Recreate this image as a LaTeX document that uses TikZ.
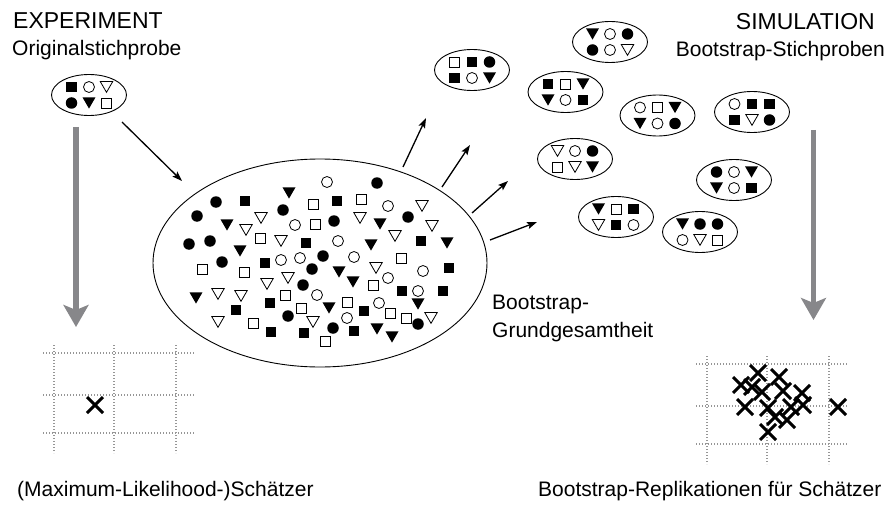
\documentclass[tikz,border=0pt]{standalone}
\usepackage{fontspec}
\setmainfont{Liberation Sans}
\usepackage{tikz}
\usetikzlibrary{calc, shapes.geometric, shapes.misc, arrows.meta}

\definecolor{greyarrow}{RGB}{135,135,138}
\definecolor{gridgrey}{RGB}{150,150,150}

\tikzset{
    smp/.style={ellipse, draw, line width=0.9pt, minimum width=75pt, minimum height=41pt, inner sep=0pt},
    fsq/.style={rectangle, fill=black, minimum size=10.5pt, inner sep=0pt},
    osq/.style={rectangle, draw, line width=0.8pt, minimum size=10pt, inner sep=0pt},
    fci/.style={circle, fill=black, minimum size=11.5pt, inner sep=0pt},
    oci/.style={circle, draw, line width=0.8pt, minimum size=11pt, inner sep=0pt},
    ftr/.style={regular polygon, regular polygon sides=3, shape border rotate=180, fill=black, minimum size=15pt, inner sep=0pt, yshift=1.9pt},
    otr/.style={regular polygon, regular polygon sides=3, shape border rotate=180, draw, line width=0.8pt, minimum size=14.5pt, inner sep=0pt, yshift=1.9pt},
    xmark/.style={cross out, draw, line width=3pt, minimum size=13pt, inner sep=0pt},
    grd/.style={gridgrey, line width=1.3pt, dash pattern=on 1.3pt off 1.7pt},
    bigarrow/.style={greyarrow, line width=5.5pt, -{Stealth[length=22pt, width=25pt, inset=5pt]}},
    arr/.style={line width=1.3pt, -{Stealth[length=10pt, width=7pt, inset=2pt]}},
    hd/.style={font=\fontsize{23}{27}\selectfont, inner sep=0pt},
    lb/.style={font=\fontsize{21}{25}\selectfont, inner sep=0pt}
}

\newcommand{\smpl}[4]{%
    \node[smp] (#1) at (#2,#3) {};
    \foreach \s [count=\k from 0] in {#4} {
        \pgfmathsetmacro{\dx}{(mod(\k,3)-1)*17.5}
        \pgfmathsetmacro{\dy}{(floor(\k/3)-0.5)*16}
        \node[\s] (#1-\k) at ($(#1)+(\dx,\dy)$) {};
    }
}

\begin{document}
\begin{tikzpicture}[x=1pt, y=-1pt]
    \useasboundingbox (0,0) rectangle (890,505);

    \node[hd, anchor=base west] (exp) at (13,29) {EXPERIMENT};
    \node[lb, anchor=base west] (origlab) at (12,56) {Originalstichprobe};
    \node[hd, anchor=base east] (sim) at (875,30) {SIMULATION};
    \node[lb, anchor=base east] (bslab) at (885,57) {Bootstrap-Stichproben};
    \node[lb, anchor=base west] (poplab) at (492,309) {Bootstrap-};
    \node[lb, anchor=base west] (poplabb) at (492,337) {Grundgesamtheit};
    \node[lb, anchor=base west] (mle) at (17,496) {(Maximum-Likelihood-)Schätzer};
    \node[lb, anchor=base west] (rep) at (538,496) {Bootstrap-Replikationen für Schätzer};

    \smpl{orig}{89}{95}{fsq,oci,otr,fci,ftr,osq}
    \smpl{s1}{472}{70}{osq,fsq,fci,fsq,oci,ftr}
    \smpl{s2}{610}{42}{ftr,oci,fci,fci,oci,otr}
    \smpl{s3}{565.5}{92}{fsq,osq,ftr,ftr,oci,fsq}
    \smpl{s4}{657.5}{115.5}{oci,osq,ftr,ftr,oci,fci}
    \smpl{s5}{752}{112}{oci,fsq,fsq,fsq,otr,fci}
    \smpl{s6}{734}{180}{fci,oci,ftr,ftr,oci,fsq}
    \smpl{s7}{700}{232}{ftr,fci,fci,oci,otr,osq}
    \smpl{s8}{575}{159}{otr,oci,fci,osq,otr,ftr}
    \smpl{s9}{616}{217}{ftr,osq,fsq,otr,fsq,oci}

    \node[ellipse, draw, line width=0.9pt, minimum width=334pt, minimum height=208pt] (pop) at (320,263) {};
    \foreach \x/\y [count=\i] in {377/183, 216/202, 197/216, 283/210, 408/217, 334/221, 189/244, 210/241, 222/262, 323/256, 312/269, 303/285, 288/316, 333/328, 418/324}
        \node[fci] (pfc\i) at (\x,\y) {};
    \foreach \x/\y [count=\i] in {327/182, 388/206, 295/225, 338/241, 281/260, 300/258, 354/257, 423/271, 388/278, 317/295, 418/291, 379/303, 347/318}
        \node[oci] (poc\i) at (\x,\y) {};
    \foreach \x/\y [count=\i] in {245/201, 337/201, 306/243, 421/241, 265/263, 449/268, 402/291, 443/291, 236/310, 270/303, 364/311, 271/332, 304/333, 354/331}
        \node[fsq] (pfs\i) at (\x,\y) {};
    \foreach \x/\y [count=\i] in {313/204, 361/199, 315/224, 260/238, 202/269, 401/258, 244/272, 373/285, 285/295, 301/308, 347/302, 390/313, 406/318, 253/323, 325/341}
        \node[osq] (pos\i) at (\x,\y) {};
    \foreach \x/\y [count=\i] in {289/193, 227/225, 380/224, 371/245, 447/243, 240/251, 339/272, 353/282, 196/298, 329/308, 418/304, 377/329, 392/337}
        \node[ftr] (pft\i) at (\x,\y) {};
    \foreach \x/\y [count=\i] in {422/206, 261/218, 360/218, 246/230, 432/226, 281/241, 395/236, 376/268, 267/284, 288/278, 218/294, 241/296, 431/318, 218/322, 313/322}
        \node[otr] (pot\i) at (\x,\y) {};

    \coordinate (a0) at (122,122);
    \coordinate (a1) at (182,181);
    \draw[arr] (a0) -- (a1);
    \foreach \sx/\sy/\tx/\ty [count=\i] in {403/167/426/118, 442/187/470/145, 472/213/508/181, 490/240/537/222} {
        \coordinate (o\i) at (\sx,\sy);
        \coordinate (t\i) at (\tx,\ty);
        \draw[arr] (o\i) -- (t\i);
    }

    \coordinate (l0) at (76,127);
    \coordinate (l1) at (76,327);
    \coordinate (r0) at (813.5,130);
    \coordinate (r1) at (813.5,320);
    \draw[bigarrow] (l0) -- (l1);
    \draw[bigarrow] (r0) -- (r1);

    \foreach \gx/\gy in {54/353, 707/364} {
        \foreach \v in {0, 60, 122}
            \draw[grd] (\gx+\v,\gy-8) -- (\gx+\v,\gy+100);
        \foreach \h in {0, 42, 80}
            \draw[grd] (\gx-11,\gy+\h) -- (\gx+141,\gy+\h);
    }

    \node[xmark] (est) at (95,405) {};
    \foreach \x/\y [count=\i] in {758/373, 779/377, 741/385, 752/387, 762/392, 783/391, 802/393, 745/407, 768/408, 791/407, 803/405, 775/417, 787/420, 768/432, 838/407}
        \node[xmark] (rep\i) at (\x,\y) {};
\end{tikzpicture}
\end{document}
